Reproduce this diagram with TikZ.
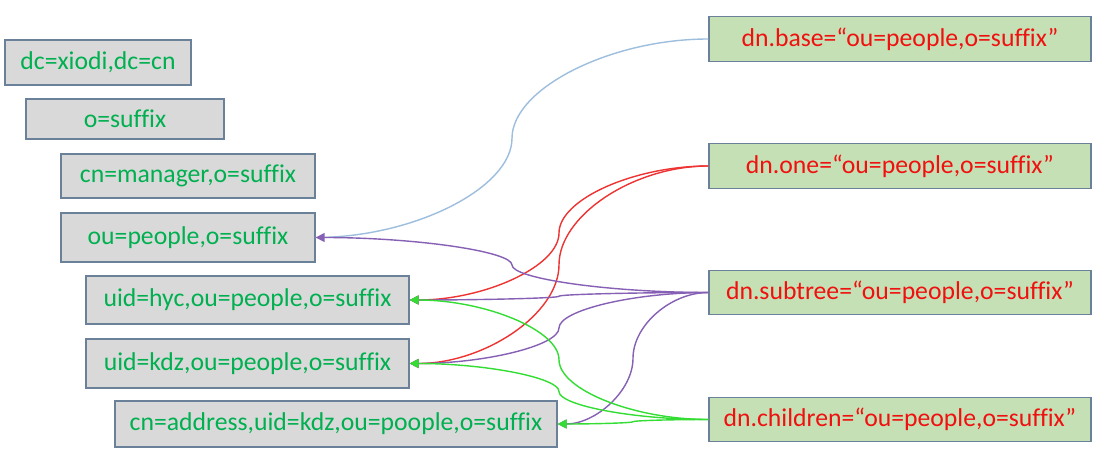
\documentclass[tikz,border=0pt]{standalone}
\usepackage{fontspec}
\setmainfont{Carlito}[Ligatures=NoCommon]
\usetikzlibrary{arrows.meta,calc}
\definecolor{txtgreen}{HTML}{00B050}
\definecolor{txtred}{HTML}{F01010}
\definecolor{boxgray}{HTML}{D9D9D9}
\definecolor{boxgreen}{HTML}{C5E0B4}
\definecolor{boxedge}{HTML}{6A8199}
\definecolor{lnblue}{HTML}{9DBEDD}
\definecolor{lnred}{HTML}{EE3333}
\definecolor{lnpurple}{HTML}{8660B4}
\definecolor{lngreen}{HTML}{33DD33}
\tikzset{
  graybox/.style={draw=boxedge,line width=1.3pt,fill=boxgray,inner sep=0pt,
    text=txtgreen,font=\fontsize{25.7}{30}\selectfont,align=center},
  greenbox/.style={draw=boxedge,line width=1.3pt,fill=boxgreen,inner sep=0pt,
    text=txtred,font=\fontsize{25.7}{30}\selectfont,align=center,
    minimum width=382pt,minimum height=44.5pt},
  pptcurve/.style={to path={
    let \p1=(\tikztostart), \p2=(\tikztotarget) in
    .. controls ({0.75*\x1+0.25*\x2},\y1) and ({0.5*\x1+0.5*\x2},{0.75*\y1+0.25*\y2})
    .. ({0.5*\x1+0.5*\x2},{0.5*\y1+0.5*\y2})
    .. controls ({0.5*\x1+0.5*\x2},{0.25*\y1+0.75*\y2}) and ({0.25*\x1+0.75*\x2},\y2)
    .. (\tikztotarget) \tikztonodes}},
  conn/.style={line width=1.4pt,-{Triangle[length=9pt,width=9pt]},pptcurve}
}
\begin{document}
\begin{tikzpicture}[x=1pt,y=-1pt]
\useasboundingbox (0,0) rectangle (1103,465);
\fill[white] (0,0) rectangle (1103,465);
% left boxes
\node[graybox,minimum width=186pt,minimum height=45pt] (dc) at (98,62.5) {dc=xiodi,dc=cn};
\node[graybox,minimum width=198pt,minimum height=40pt] (o) at (125,119) {o=suffix};
\node[graybox,minimum width=254pt,minimum height=44pt] (mgr) at (188,176) {cn=manager,o=suffix};
\node[graybox,minimum width=254pt,minimum height=49pt] (ou) at (188,237.5) {ou=people,o=suffix};
\node[graybox,minimum width=323pt,minimum height=48pt] (hyc) at (247.5,300) {uid=hyc,ou=people,o=suffix};
\node[graybox,minimum width=323pt,minimum height=49pt] (kdz) at (247.5,363.5) {uid=kdz,ou=people,o=suffix};
\node[graybox,minimum width=442pt,minimum height=46pt] (addr) at (336,424) {cn=address,uid=kdz,ou=poople,o=suffix};
% right boxes
\node[greenbox] (base) at (900,39) {dn.base=“ou=people,o=suffix”};
\node[greenbox] (one) at (900,166) {dn.one=“ou=people,o=suffix”};
\node[greenbox] (sub) at (900,292.5) {dn.subtree=“ou=people,o=suffix”};
\node[greenbox] (child) at (900,419.5) {dn.children=“ou=people,o=suffix”};
% connectors
\draw[conn,draw=lnblue,-] (base.west) to (ou.east);
\draw[conn,draw=lnred] (one.west) to (hyc.east);
\draw[conn,draw=lnred] (one.west) to (kdz.east);
\draw[conn,draw=lnpurple] (sub.west) to (ou.east);
\draw[conn,draw=lnpurple] (sub.west) to (hyc.east);
\draw[conn,draw=lnpurple] (sub.west) to (kdz.east);
\draw[conn,draw=lnpurple] (sub.west) to (addr.east);
\draw[conn,draw=lngreen] (child.west) to (hyc.east);
\draw[conn,draw=lngreen] (child.west) to (kdz.east);
\draw[conn,draw=lngreen] (child.west) to (addr.east);
\end{tikzpicture}
\end{document}
